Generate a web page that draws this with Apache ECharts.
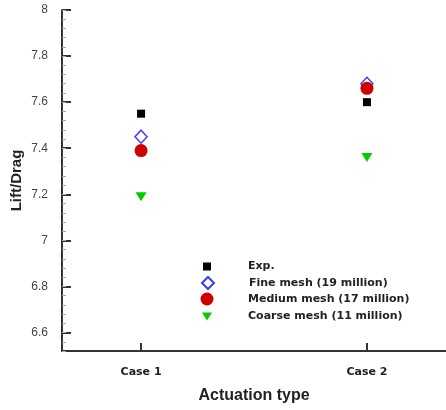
<!DOCTYPE html>
<html>
<head>
<meta charset="utf-8">
<script src="https://cdn.jsdelivr.net/npm/echarts@6/dist/echarts.min.js"></script>
<style>
  html, body { margin: 0; padding: 0; background: #fff; }
  #chart { width: 446px; height: 410px; }
</style>
</head>
<body>
<div id="chart"></div>
<script>
// data
const categories = ['Case 1', 'Case 2'];
const casePositions = [1, 2];
const expValues = [7.55, 7.60];
const fineValues = [7.45, 7.68];
const mediumValues = [7.39, 7.66];
const coarseValues = [7.19, 7.36];
const yTicks = [6.6, 6.8, 7, 7.2, 7.4, 7.6, 7.8, 8];
const seriesNames = ['Exp.', 'Fine mesh (19 million)', 'Medium mesh (17 million)', 'Coarse mesh (11 million)'];

const chartDom = document.getElementById('chart');
const myChart = echarts.init(chartDom);

const font = 'Liberation Sans, Arial, sans-serif';
const wideFont = 'DejaVu Sans, Liberation Sans, sans-serif';

function pairs(vals) {
    return casePositions.map((x, i) => [x, vals[i]]);
}

// one small legend per row so each icon keeps its own size
const legendRows = [
    { name: seriesNames[0], size: 8, y: 265 },
    { name: seriesNames[1], size: 12, y: 282 },
    { name: seriesNames[2], size: 13, y: 299 },
    { name: seriesNames[3], size: 10, y: 316, icon: 'path://M0,0L10,0L5,8Z' }
];

const legends = legendRows.map(r => ({
    data: [r.icon ? { name: r.name, icon: r.icon } : r.name],
    orient: 'vertical',
    left: 207 - r.size / 2,
    top: r.y - r.size / 2,
    padding: 0,
    itemWidth: r.size,
    itemHeight: r.size,
    selectedMode: false,
    textStyle: {
        fontFamily: wideFont, fontWeight: 'bold', fontSize: 11, color: '#222',
        padding: [0, 0, 0, 36 - r.size / 2]
    }
}));

let option = {
    animation: false,
    grid: { left: 62, right: 0, top: 10, bottom: 59, containLabel: false, outerBoundsMode: 'none' },
    legend: legends,
    xAxis: {
        type: 'value',
        min: 0.65,
        max: 2.35,
        name: 'Actuation type',
        nameLocation: 'middle',
        nameGap: 37,
        nameMoveOverlap: false,
        nameTextStyle: { fontFamily: font, fontWeight: 'bold', fontSize: 16, color: '#222' },
        splitLine: { show: false },
        axisLine: { lineStyle: { color: '#333', width: 2 } },
        axisTick: { inside: true, length: 8, customValues: casePositions, lineStyle: { color: '#333', width: 2 } },
        axisLabel: {
            customValues: casePositions,
            margin: 16,
            fontFamily: wideFont, fontWeight: 'bold', fontSize: 11, color: '#222',
            formatter: v => categories[Math.round(v) - 1]
        }
    },
    yAxis: [
        {
            type: 'value',
            min: 6.52,
            max: 8,
            name: 'Lift/Drag',
            nameLocation: 'middle',
            nameGap: 38,
            nameMoveOverlap: false,
            nameTextStyle: { fontFamily: font, fontWeight: 'bold', fontSize: 15, color: '#222' },
            splitLine: { show: false },
            axisLine: { show: true, lineStyle: { color: '#333', width: 2 } },
            axisTick: { inside: true, length: 9, customValues: yTicks, lineStyle: { color: '#333', width: 2 } },
            axisLabel: {
                customValues: yTicks,
                margin: 14,
                fontFamily: font, fontSize: 12, color: '#444',
                formatter: v => String(+v.toFixed(2))
            }
        },
        {
            // minor ticks only
            type: 'value',
            position: 'left',
            min: 6.52,
            max: 8,
            interval: 0.04,
            splitLine: { show: false },
            axisLine: { show: false },
            axisLabel: { show: false },
            axisTick: { inside: true, length: 4, lineStyle: { color: '#aaa', width: 1 } }
        }
    ],
    series: [
        {
            name: seriesNames[0], type: 'scatter', symbol: 'rect', symbolSize: 8,
            itemStyle: { color: '#000', opacity: 1 }, data: pairs(expValues)
        },
        {
            name: seriesNames[1], type: 'scatter', symbol: 'diamond', symbolSize: [12, 13],
            itemStyle: { color: '#fff', borderColor: '#3b3bff', borderWidth: 1.5, opacity: 1 }, data: pairs(fineValues)
        },
        {
            name: seriesNames[2], type: 'scatter', symbol: 'circle', symbolSize: 13,
            itemStyle: { color: '#d00000', opacity: 1 }, data: pairs(mediumValues)
        },
        {
            name: seriesNames[3], type: 'scatter', symbol: 'triangle', symbolSize: [11, 9], symbolRotate: 180,
            itemStyle: { color: '#00cc00', opacity: 1 }, data: pairs(coarseValues)
        }
    ]
};

myChart.setOption(option);
</script>
</body>
</html>
